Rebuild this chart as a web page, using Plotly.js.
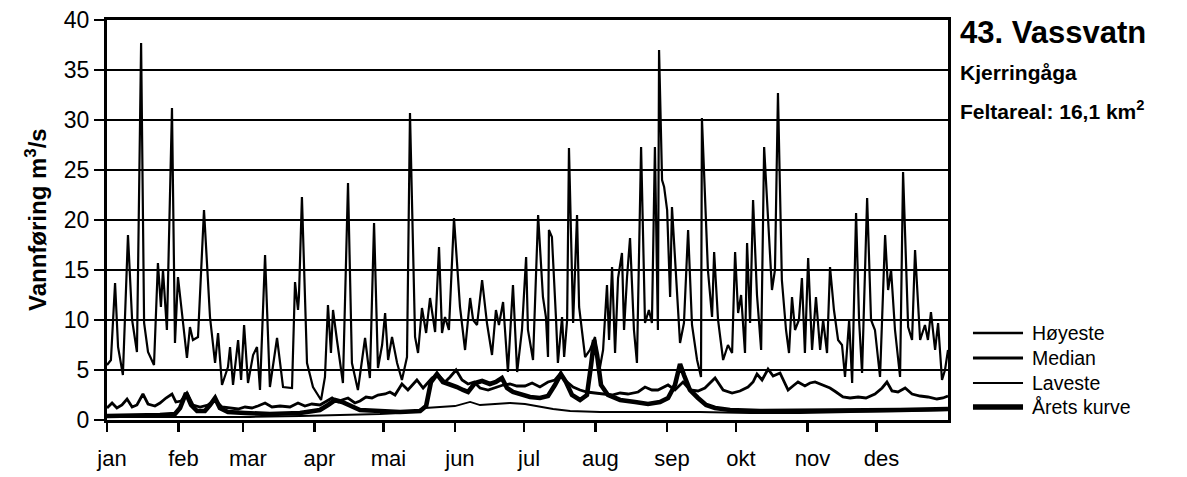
<!DOCTYPE html>
<html>
<head>
<meta charset="utf-8">
<script src="https://cdn.plot.ly/plotly-3.0.1.min.js"></script>
<style>
  html, body { margin: 0; padding: 0; background: #fff; }
  #chart { width: 1187px; height: 477px; }
</style>
</head>
<body>
<div id="chart"></div>
<script>
// Daily discharge, Vassvatn (Kjerringåga). x = day of year (0 = 1 Jan).
const months = ['jan', 'feb', 'mar', 'apr', 'mai', 'jun', 'jul', 'aug', 'sep', 'okt', 'nov', 'des'];
const monthStart = [0, 31, 59, 90, 120, 151, 181, 212, 243, 273, 304, 334];

// Høyeste (highest observed)
const hoyDay = [0,1.7,3.5,4.8,6.9,9.1,10.9,13.0,14.8,16.1,17.8,20.4,22.1,23.4,24.3,26.0,28.2,29.5,30.8,33.0,34.7,36.0,37.3,39.5,42.1,44.7,46.9,48.2,49.9,52.5,53.4,54.7,56.9,58.2,59.5,61.2,63.4,65.1,66.4,68.6,70.7,73.8,76.4,80.3,81.6,82.9,83.3,84.6,86.8,89.4,92.9,94.6,95.9,97.2,98.1,99.8,102.4,104.6,106.3,108.9,112.0,114.1,115.9,117.6,119.4,120.7,122.0,123.7,125.9,128.0,130.2,131.5,133.7,135.0,136.7,138.5,140.2,142.4,144.1,145.4,146.7,148.4,150.6,153.2,155.4,157.6,158.9,160.6,162.8,164.9,167.1,168.8,170.1,171.9,174.0,176.2,178.0,180.1,181.9,182.7,184.9,187.1,189.2,190.5,191.4,191.8,193.1,194.9,195.7,197.5,198.4,199.7,200.5,202.3,204.0,204.9,207.5,209.6,211.8,213.5,215.3,217.0,217.9,219.2,220.5,221.8,223.5,224.4,225.7,227.0,228.7,230.0,231.8,233.5,235.2,236.5,237.8,239.1,239.6,240.9,241.8,243.1,244.4,245.2,247.0,248.7,250.4,252.2,253.9,256.1,257.8,258.2,260.8,262.6,263.5,265.2,267.4,269.5,271.3,272.6,273.9,275.2,276.9,277.8,279.1,280.4,282.1,283.9,285.2,286.5,288.6,289.9,291.2,292.9,294.7,296.0,297.3,298.6,300.3,301.6,302.9,304.3,306.0,307.7,309.5,310.8,312.5,313.8,315.5,317.3,319.0,320.3,322.1,323.4,325.1,326.4,327.7,329.9,331.6,333.3,335.5,337.7,339.0,340.3,342.0,344.2,345.5,347.7,349.4,350.7,352.9,355.0,356.3,357.6,359.4,360.7,362.4,363.7,365.0];
const hoyVal = [5.5,6.0,13.7,7.3,4.5,18.5,10.0,6.8,37.7,9.7,6.8,5.5,15.7,11.3,15.0,9.0,31.2,7.7,14.3,9.5,6.2,9.3,8.0,8.3,21.0,10.3,5.7,8.7,3.5,5.3,7.3,3.5,8.0,4.0,9.5,3.7,6.5,7.3,3.0,16.5,3.3,8.2,3.3,3.2,13.8,11.0,12.3,22.3,5.7,3.3,2.0,4.3,11.5,6.7,11.0,8.0,3.7,23.7,5.7,3.0,8.2,4.2,19.7,5.2,7.5,10.7,6.0,8.3,5.7,4.0,6.3,30.7,8.3,6.7,11.2,8.7,12.2,8.8,17.3,8.7,10.3,9.0,20.2,11.3,7.0,12.2,10.0,9.5,14.0,9.7,6.5,11.0,9.5,11.8,4.8,13.5,4.8,9.0,16.3,9.0,6.0,20.5,12.3,10.3,6.3,19.0,18.3,10.0,5.7,10.3,6.3,10.0,27.2,9.7,20.5,11.3,6.3,7.0,8.3,4.7,7.0,13.5,8.0,15.3,6.7,14.2,16.7,9.0,14.3,18.2,9.0,5.7,27.3,9.7,11.0,9.7,27.3,9.0,37.0,24.0,23.3,21.0,12.3,21.3,14.0,7.7,9.7,19.0,9.5,6.0,4.3,30.2,15.0,10.3,16.8,10.0,6.0,7.5,6.7,16.8,10.7,12.5,6.7,17.7,9.7,22.0,12.5,7.0,27.3,22.0,13.0,15.0,32.7,14.0,9.0,6.7,12.3,9.0,10.0,14.2,6.7,16.2,7.0,12.3,7.0,10.0,6.7,15.3,11.0,8.0,7.5,4.3,10.0,3.7,20.7,10.0,4.7,22.2,10.0,9.0,4.3,18.5,13.0,15.0,9.0,4.3,24.8,9.3,8.0,17.0,8.0,9.5,8.0,10.8,7.0,9.7,4.0,5.0,7.0];

// Median
const medDay = [0,2.2,4.3,6.5,8.7,10.9,13.0,15.6,17.8,20.8,23.0,25.6,28.2,29.9,32.1,34.7,37.3,40.4,43.8,46.9,49.9,53.4,56.9,59.9,62.9,65.5,68.6,71.6,75.1,79.4,82.9,85.9,88.9,92.4,95.1,97.7,100.3,102.0,104.6,107.6,109.8,112.4,115.0,117.6,120.7,122.8,125.0,128.0,130.6,134.5,137.2,141.1,143.7,146.7,148.9,151.5,154.1,156.7,159.3,161.9,165.4,168.4,171.9,174.9,177.9,181.4,184.5,187.9,191.4,194.4,196.6,199.2,202.3,205.3,208.3,211.8,215.7,219.2,222.7,226.1,230.5,233.5,236.5,239.1,243.5,246.5,250.0,253.0,256.5,259.5,263.9,267.4,271.3,274.7,278.2,280.4,282.1,284.3,286.9,289.1,292.1,293.8,295.6,297.7,299.9,302.9,305.1,307.3,310.3,313.8,316.4,319.4,322.5,326.0,329.4,333.3,336.4,338.5,340.7,343.3,346.4,349.4,352.9,356.3,360.2,362.8,365.0];
const medVal = [1.2,1.7,1.2,1.5,2.1,1.3,1.5,2.6,1.6,1.4,1.7,2.2,2.6,1.8,1.9,2.7,1.5,1.3,1.5,2.0,1.3,1.2,1.1,1.3,1.2,1.4,1.7,1.3,1.4,1.3,1.7,1.4,1.6,1.5,1.9,2.2,1.8,2.0,2.2,1.7,1.9,2.3,2.2,2.5,2.6,2.8,2.5,3.6,3.0,4.0,3.2,4.2,4.5,3.8,4.3,5.0,4.0,3.6,3.8,3.2,3.0,3.2,3.5,3.6,3.4,3.4,3.7,3.3,3.8,4.0,4.6,3.9,3.3,3.0,2.8,2.7,2.6,2.5,2.7,2.6,2.8,3.3,3.0,3.0,3.5,3.0,3.8,3.0,2.9,3.2,4.2,3.0,2.7,2.9,3.3,3.8,4.6,4.0,5.1,4.4,4.7,3.8,3.0,3.4,3.8,3.4,3.7,3.8,3.5,3.2,2.8,2.3,2.2,2.3,2.2,2.6,3.2,3.8,2.9,2.8,3.2,2.6,2.4,2.3,2.1,2.2,2.4];

// Laveste (lowest observed)
const lavDay = [0,18.7,40.4,62.1,83.8,105.5,118.5,127.2,133.7,138.0,144.5,151.0,157.6,161.9,168.4,174.9,181.4,187.9,193.6,201.0,214.0,235.7,257.4,279.1,300.8,322.5,344.2,365.0];
const lavVal = [0.3,0.3,0.3,0.3,0.4,0.5,0.6,0.7,0.9,1.2,1.3,1.4,1.8,1.5,1.6,1.7,1.6,1.3,1.1,0.9,0.8,0.8,0.8,0.7,0.7,0.8,0.9,1.0];

// Årets kurve (this year)
const aarDay = [0,10.0,23.0,29.5,31.7,34.3,36.5,39.1,42.5,44.7,46.9,49.0,52.5,59.9,70.7,83.8,92.4,95.9,99.0,102.0,105.5,109.8,118.5,127.2,135.9,138.5,140.6,143.2,145.8,148.9,151.9,154.5,156.7,159.7,162.8,166.2,168.8,171.4,173.6,176.2,179.3,183.6,187.9,191.4,194.4,197.0,199.2,201.8,205.3,208.3,210.1,211.4,212.7,214.4,217.4,222.7,229.2,234.8,240.0,243.5,246.5,248.7,250.4,253.0,256.5,260.0,263.9,270.4,283.4,300.8,322.5,344.2,365.0];
const aarVal = [0.4,0.4,0.5,0.6,1.2,2.7,1.5,0.9,0.9,1.5,2.2,1.2,0.8,0.7,0.6,0.7,1.0,1.5,2.0,1.8,1.4,1.0,0.9,0.8,0.9,1.4,3.8,4.6,3.8,3.6,3.3,3.0,2.8,3.7,3.9,3.6,3.8,4.2,3.2,2.8,2.6,2.3,2.2,2.4,3.5,4.6,3.8,2.5,2.0,2.5,5.5,8.0,6.5,3.5,2.5,2.0,1.8,1.6,1.8,2.2,3.5,5.6,4.5,3.0,2.2,1.5,1.2,1.0,0.9,0.9,1.0,1.0,1.1];

const seriesNames = ['Høyeste', 'Median', 'Laveste', 'Årets kurve'];
const seriesWidths = [2.2, 2.8, 1.8, 4.6];
const ink = '#000';

const traces = [
  { x: hoyDay, y: hoyVal, name: seriesNames[0], width: seriesWidths[0] },
  { x: lavDay, y: lavVal, name: seriesNames[2], width: seriesWidths[2] },
  { x: medDay, y: medVal, name: seriesNames[1], width: seriesWidths[1] },
  { x: aarDay, y: aarVal, name: seriesNames[3], width: seriesWidths[3] }
].map(s => ({
  type: 'scatter', mode: 'lines', x: s.x, y: s.y, name: s.name,
  line: { color: ink, width: s.width, shape: 'linear' },
  hoverinfo: 'skip', showlegend: false
}));

// Legend to the right of the plot: short line sample + label per series
const legendY = [0.2175, 0.155, 0.0925, 0.0325];
const legendShapes = seriesNames.map((n, i) => ({
  type: 'line', xref: 'paper', yref: 'paper',
  x0: 1.0297, x1: 1.0892, y0: legendY[i], y1: legendY[i],
  line: { color: ink, width: [2.4, 3, 2, 5.5][i] }
}));
const legendText = seriesNames.map((n, i) => ({
  xref: 'paper', yref: 'paper', x: 1.0975, y: legendY[i],
  xanchor: 'left', yanchor: 'middle', showarrow: false,
  text: n, font: { size: 19.5, color: ink }
}));

const titleAnn = [
  { text: '<b>43. Vassvatn</b>', y: 0.97, size: 31 },
  { text: '<b>Kjerringåga</b>', y: 0.87, size: 21 },
  { text: '<b>Feltareal: 16,1 km<sup>2</sup></b>', y: 0.775, size: 21 }
].map(t => ({
  xref: 'paper', yref: 'paper', x: 1.0119, y: t.y, xanchor: 'left', yanchor: 'middle',
  showarrow: false, text: t.text, font: { size: t.size, color: ink }
}));

const yTitle = {
  xref: 'paper', yref: 'paper', x: 0, y: 0.5, xshift: -71,
  xanchor: 'center', yanchor: 'middle', textangle: -90, showarrow: false,
  text: '<b>Vannføring m<sup>3</sup>/s</b>', font: { size: 24, color: ink }
};

const layout = {
  width: 1187, height: 477,
  margin: { l: 107, r: 239, t: 20, b: 57, pad: 0 },
  paper_bgcolor: '#fff', plot_bgcolor: '#fff',
  font: { family: '"Liberation Sans", Arial, Helvetica, sans-serif', color: ink },
  xaxis: {
    range: [0, 365], tickmode: 'array', tickvals: monthStart, ticktext: months,
    ticks: 'outside', ticklen: 9, tickwidth: 2.4, tickcolor: ink,
    showgrid: false, zeroline: false,
    showline: true, linewidth: 3, linecolor: ink, mirror: true,
    tickfont: { size: 22, color: ink }, ticklabelstandoff: 8, ticklabelshift: 5
  },
  yaxis: {
    range: [0, 40], tick0: 0, dtick: 5,
    ticks: 'outside', ticklen: 10, tickwidth: 2.4, tickcolor: ink,
    showgrid: true, gridcolor: ink, gridwidth: 2.6, zeroline: false,
    showline: true, linewidth: 3, linecolor: ink, mirror: true,
    tickfont: { size: 23, color: ink }
  },
  shapes: legendShapes,
  annotations: titleAnn.concat(legendText, [yTitle]),
  showlegend: false
};

Plotly.newPlot('chart', traces, layout, { staticPlot: true, displayModeBar: false });
</script>
</body>
</html>
